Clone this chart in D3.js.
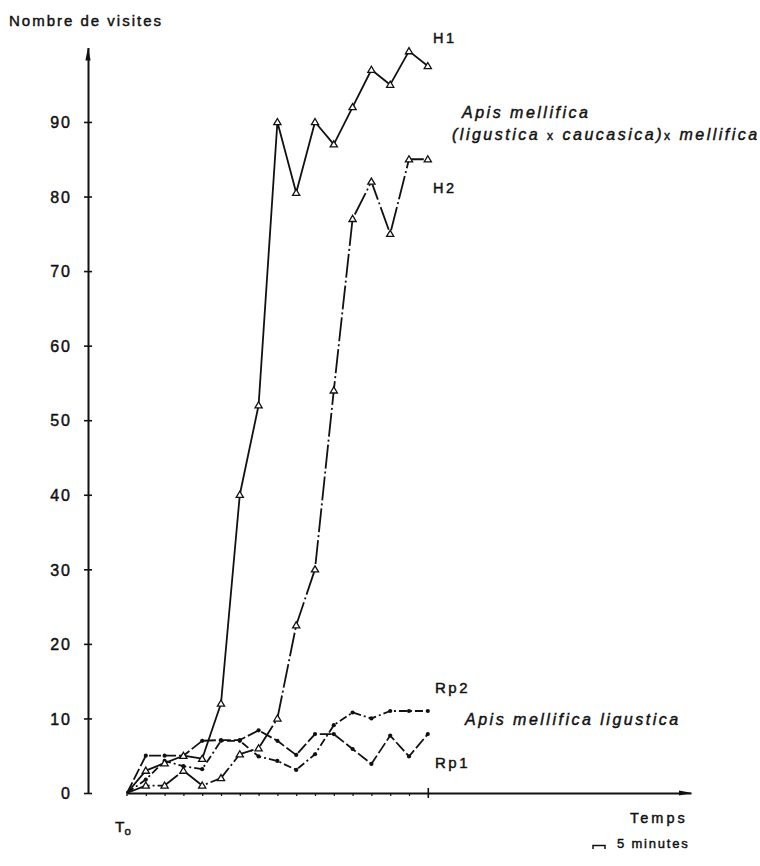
<!DOCTYPE html>
<html><head><meta charset="utf-8">
<script src="https://cdn.jsdelivr.net/npm/d3@7"></script>
<style>
html,body{margin:0;padding:0;background:#fff;}
text{font-family:"Liberation Sans",Arial,sans-serif;fill:#111;stroke:#111;stroke-width:0.45px;}
</style></head>
<body><svg id="c" width="760" height="866"></svg>
<script>
// ---- data ----
const timeIdx = d3.range(0, 17);           // 5-minute steps from T0
const H1  = [0, 3, 4, 5, 4.6, 12, 40, 52, 90, 80.5, 90, 87, 92, 97, 95, 99.5, 97.5];
const H2  = [0, 1, 1, 3, 1, 2, 5.2, 6, 10, 22.5, 30, 54, 77, 82, 75, 85, 85];
const Rp1 = [0, 5, 5, 5, 7, 7.1, 7.1, 8.4, 7, 5.1, 7.9, 7.9, 5.9, 3.9, 7.7, 4.9, 7.9];
const Rp2 = [0, 1.8, 4.3, 3.6, 3.2, 7, 7, 4.9, 4.3, 3.1, 5.2, 9.1, 10.8, 10, 11, 11, 11];
const yTicks = [0, 10, 20, 30, 40, 50, 60, 70, 80, 90];
const xTicks = d3.range(1, 17);

const svg = d3.select("#c");
const x = d3.scaleLinear().domain([0, 30]).range([127, 691]);
const y = d3.scaleLinear().domain([0, 100]).range([793, 47.4]);
const yAxisX = 88;
const ink = "#111";

// ---- Y axis ----
const gy = svg.append("g").attr("transform", `translate(${yAxisX},0)`)
  .call(d3.axisLeft(y).tickValues(yTicks).tickSize(4).tickSizeOuter(0).tickPadding(12));
gy.select(".domain").attr("stroke", ink).attr("stroke-width", 2);
gy.selectAll(".tick line").attr("x1", 4).attr("stroke", ink).attr("stroke-width", 1.6);
gy.selectAll(".tick text").attr("font-size", 16).attr("letter-spacing", "2px")
  .attr("font-family", "Liberation Sans, Arial, sans-serif").attr("fill", ink).attr("dy", "0.36em");
svg.append("path").attr("fill", ink)
  .attr("d", `M${yAxisX},${y(100)} L${yAxisX-2.6},${y(100)+13} L${yAxisX+2.6},${y(100)+13} Z`);

// ---- X axis ----
const gx = svg.append("g").attr("transform", `translate(0,${y(0)})`)
  .call(d3.axisBottom(x).tickValues(xTicks).tickSize(3).tickSizeOuter(0).tickFormat(""));
gx.select(".domain").attr("stroke", ink).attr("stroke-width", 1.8);
gx.selectAll(".tick line").attr("stroke", ink).attr("stroke-width", 1.2)
  .filter(d => d === 16).attr("y1", -5).attr("y2", 5).attr("stroke-width", 1.6);
svg.append("line").attr("x1", x(0)).attr("x2", x(0)).attr("y1", y(0)-2).attr("y2", y(0)+3)
  .attr("stroke", ink).attr("stroke-width", 1.4);
svg.append("path").attr("fill", ink)
  .attr("d", `M${x(30)+1},${y(0)} L${x(30)-12},${y(0)-2.6} L${x(30)-12},${y(0)+2.6} Z`);

// ---- series ----
const line = d3.line().x((d, i) => x(timeIdx[i])).y(d => y(d));
function series(data, dash, marker) {
  svg.append("path").datum(data).attr("d", line).attr("fill", "none")
    .attr("stroke", ink).attr("stroke-width", 1.8).attr("stroke-linejoin", "round")
    .attr("stroke-dasharray", dash);
  const pts = data.map((d, i) => [x(timeIdx[i]), y(d)]).slice(1);
  if (marker === "tri") {
    svg.append("g").selectAll("path").data(pts).join("path")
      .attr("d", d => `M${d[0]},${d[1]-3.5} L${d[0]+3.6},${d[1]+2.6} L${d[0]-3.6},${d[1]+2.6} Z`)
      .attr("fill", "#fff").attr("stroke", ink).attr("stroke-width", 1.3);
  } else {
    svg.append("g").selectAll("circle").data(pts).join("circle")
      .attr("cx", d => d[0]).attr("cy", d => d[1]).attr("r", 2.1).attr("fill", ink);
  }
}
series(Rp1, "12,3", "dot");
series(Rp2, "8,3,2,3", "dot");
series(H2, "24,3,2,3", "tri");
series(H1, null, "tri");

// ---- labels ----
function label(txt, xx, yy, size, ls, style) {
  return svg.append("text").attr("x", xx).attr("y", yy).attr("font-size", size)
    .attr("letter-spacing", ls + "px").attr("font-style", style || "normal").text(txt);
}
label("Nombre de visites", 9, 26, 15, 2.0);
label("H1", 433, 43, 14.5, 2.5);
label("H2", 433, 193, 14.5, 2.5);
label("Apis  mellifica", 462, 118, 16, 2.5, "italic");
const t2 = svg.append("text").attr("x", 452).attr("y", 140).attr("font-size", 16)
  .attr("letter-spacing", "2.5px").attr("font-style", "italic");
t2.append("tspan").text("(ligustica ");
t2.append("tspan").attr("font-size", 12).attr("font-style", "normal").text("x");
t2.append("tspan").text(" caucasica)");
t2.append("tspan").attr("font-size", 12).attr("font-style", "normal").text("x");
t2.append("tspan").text(" mellifica");
label("Rp2", 435, 693, 15, 2.5);
label("Apis mellifica ligustica", 465, 725, 16, 2.5, "italic");
label("Rp1", 435, 768, 15, 2.5);
const t0 = svg.append("text").attr("x", 115).attr("y", 832).attr("font-size", 15.5);
t0.append("tspan").text("T");
t0.append("tspan").attr("font-size", 11.5).attr("dy", 3).text("o");
label("Temps", 630, 823, 14.5, 3);
label("5 minutes", 617, 848, 13, 1.8);
svg.append("path").attr("fill", "none").attr("stroke", ink).attr("stroke-width", 1.5)
  .attr("d", `M593,849 L593,845.5 L605,845.5 L605,849`);
</script></body></html>
